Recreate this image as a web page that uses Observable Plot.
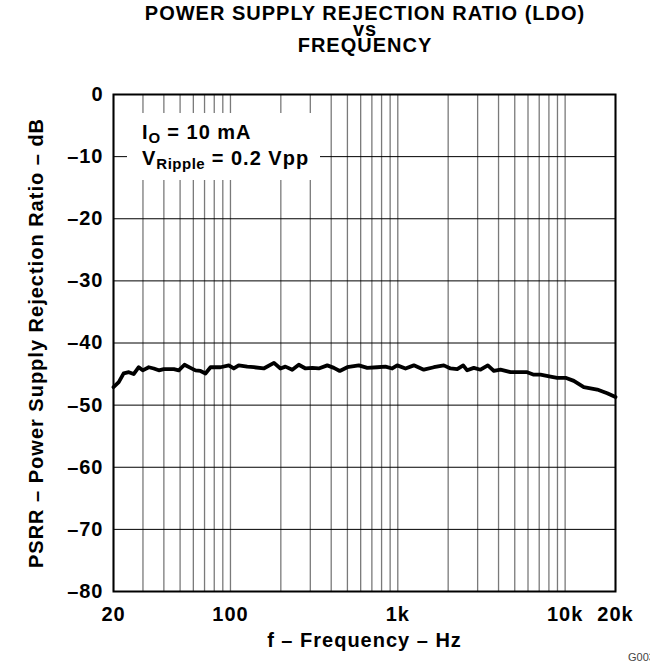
<!DOCTYPE html>
<html><head><meta charset="utf-8">
<script src="https://cdn.jsdelivr.net/npm/d3@7"></script>
<script src="https://cdn.jsdelivr.net/npm/@observablehq/plot@0.6"></script>
<style>
body{margin:0;background:#fff;font-family:"Liberation Sans",Arial,Helvetica,sans-serif;}
#wrap{position:relative;width:650px;height:661px;overflow:hidden;background:#fff;}
#title{height:52px;width:570px;margin-left:80px;text-align:center;font-weight:bold;font-size:20px;letter-spacing:1px;line-height:16px;padding-top:5px;box-sizing:border-box;color:#000;}
#note{position:absolute;left:127px;top:113px;width:193px;height:67px;background:#fff;font-weight:bold;font-size:20px;letter-spacing:1px;color:#000;}
#note div{position:absolute;left:15px;white-space:nowrap;line-height:19px;}
#note sub{font-size:15px;vertical-align:-4px;line-height:0;letter-spacing:0.5px;}
#code{position:absolute;left:628px;top:651px;font-size:11px;color:#444;}
svg{display:block;}
svg text{letter-spacing:1px;}
</style></head>
<body>
<div id="wrap">
<div id="title">POWER SUPPLY REJECTION RATIO (LDO)<br>vs<br>FREQUENCY</div>
<div id="chart"></div>
<div id="note"><div style="top:10px">I<sub>O</sub> = 10 mA</div><div style="top:36px">V<sub>Ripple</sub> = 0.2 Vpp</div></div>
<div id="code">G003</div>
</div>
<script>
const freq = [20,21.5,23,24.7,26.4,28.3,29.9,32.5,34.8,37.3,40,45.9,49.1,53.1,57.7,61.8,66.2,70.9,76,87.2,97.7,104.7,112,126,138,158,182,199,213,234,256,281,308,337,379,415,450,499,585,657,753,844,926,992,1112,1247,1430,1642,1883,2066,2265,2460,2598,2846,3122,3452,3748,4110,4718,5935,6499,7125,8178,8967,10054,11270,12932,15546,17844,20000];
const psrr = [-47.1,-46.3,-44.9,-44.7,-45.0,-43.9,-44.4,-43.9,-44.1,-44.4,-44.2,-44.2,-44.4,-43.5,-44.0,-44.4,-44.5,-44.9,-43.9,-43.9,-43.6,-44.1,-43.6,-43.8,-43.9,-44.1,-43.2,-44.1,-43.8,-44.3,-43.5,-44.1,-44.0,-44.1,-43.6,-44.0,-44.5,-43.9,-43.6,-44.0,-43.9,-43.8,-44.1,-43.6,-44.1,-43.6,-44.3,-43.9,-43.6,-44.1,-44.2,-43.6,-44.4,-44.0,-44.3,-43.6,-44.5,-44.3,-44.7,-44.7,-45.1,-45.1,-45.4,-45.6,-45.6,-46.1,-47.1,-47.5,-48.1,-48.7];
const xTickValues = [20,100,1000,10000,20000];
const xTickLabels = ["20","100","1k","10k","20k"];
const xGrid = [20,30,40,50,60,70,80,90,100,200,300,400,500,600,700,800,900,1000,2000,3000,4000,5000,6000,7000,8000,9000,10000,20000];
const yTickValues = [0,-10,-20,-30,-40,-50,-60,-70,-80];
const yTickLabels = ["0","\u201310","\u201320","\u201330","\u201340","\u201350","\u201360","\u201370","\u201380"];

const data = freq.map((f,i)=>({f, v: psrr[i]}));

const chart = Plot.plot({
  width: 650, height: 609,
  marginTop: 42, marginBottom: 70, marginLeft: 113, marginRight: 35,
  style: {fontFamily: '"Liberation Sans", Arial, Helvetica, sans-serif', fontSize: "20px", fontWeight: "bold", color: "#000", background: "#fff", overflow: "visible"},
  x: {type: "log", domain: [20, 20000], ticks: xTickValues, tickFormat: d => xTickLabels[xTickValues.indexOf(d)], tickSize: 0, tickPadding: 15,
      label: "f \u2013 Frequency \u2013 Hz", labelAnchor: "center", labelOffset: 55, labelArrow: "none"},
  y: {domain: [-80, 0], ticks: yTickValues, tickFormat: d => yTickLabels[yTickValues.indexOf(d)], tickSize: 0, tickPadding: 10,
      label: "PSRR \u2013 Power Supply Rejection Ratio \u2013 dB", labelAnchor: "center", labelOffset: 85, labelArrow: "none"},
  marks: [
    Plot.gridX(xGrid, {stroke: "#7a7a7a", strokeOpacity: 1, strokeWidth: 1.3}),
    Plot.gridY(yTickValues, {stroke: "#000", strokeOpacity: 1, strokeWidth: 1}),
    Plot.line(data, {x: "f", y: "v", stroke: "#000", strokeWidth: 3.8, strokeLinejoin: "round"}),
    Plot.frame({stroke: "#000", strokeWidth: 2})
  ]
});
document.getElementById("chart").appendChild(chart);
</script>
</body></html>
